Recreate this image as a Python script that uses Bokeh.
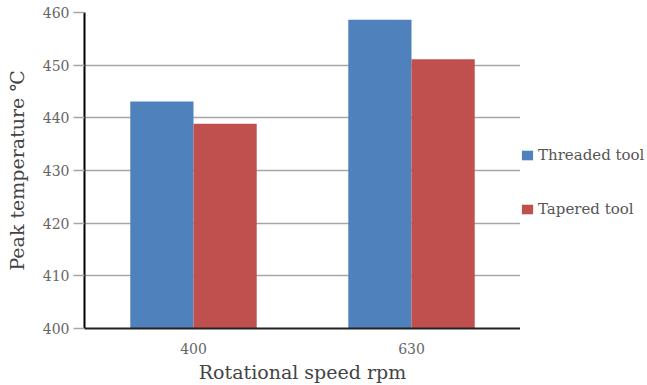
from bokeh.plotting import figure
from bokeh.layouts import row
from bokeh.models import ColumnDataSource, FactorRange, Legend, LegendItem, SingleIntervalTicker, Range1d
from bokeh.transform import dodge
from bokeh.embed import file_html
from bokeh.resources import INLINE

speeds = ["400", "630"]
threaded = [443.1, 458.6]
tapered = [438.9, 451.1]
series_names = ["Threaded tool", "Tapered tool"]
colors = ["#4F81BD", "#C0504D"]

source = ColumnDataSource(dict(speed=speeds, threaded=threaded, tapered=tapered))

FONT = "DejaVu Serif"

p = figure(width=520, height=385, x_range=FactorRange(*speeds), y_range=(400, 460),
           output_backend="svg", toolbar_location=None,
           min_border_left=84, min_border_right=0, min_border_top=12, min_border_bottom=57)
p.outline_line_color = None
p.background_fill_color = "white"

bw = 0.29
r1 = p.vbar(x=dodge("speed", -bw / 2, range=p.x_range), top="threaded", bottom=400, width=bw,
            source=source, fill_color=colors[0], line_color=None)
r2 = p.vbar(x=dodge("speed", bw / 2, range=p.x_range), top="tapered", bottom=400, width=bw,
            source=source, fill_color=colors[1], line_color=None)

p.xgrid.grid_line_color = None
p.ygrid.grid_line_color = "#A6A6A6"
p.ygrid.grid_line_width = 1.5
p.yaxis.ticker = SingleIntervalTicker(interval=10, num_minor_ticks=0)

p.yaxis.axis_line_color = "black"
p.yaxis.axis_line_width = 2
p.yaxis.major_tick_out = 11
p.yaxis.major_tick_in = 0
p.yaxis.major_tick_line_color = "#A6A6A6"
p.yaxis.major_tick_line_width = 1.5
p.yaxis.minor_tick_line_color = None
p.yaxis.major_label_standoff = 4
p.yaxis.major_label_text_font = FONT
p.yaxis.major_label_text_font_size = "14px"
p.yaxis.major_label_text_color = "#666666"
p.yaxis.axis_label = "Peak temperature ℃"
p.yaxis.axis_label_text_font = FONT
p.yaxis.axis_label_text_font_style = "normal"
p.yaxis.axis_label_text_font_size = "19px"
p.yaxis.axis_label_text_color = "#444444"
p.yaxis.axis_label_standoff = 12

p.xaxis.axis_line_color = "#222222"
p.xaxis.axis_line_width = 2
p.xaxis.major_tick_line_color = None
p.xaxis.minor_tick_line_color = None
p.xaxis.major_label_standoff = 8
p.xaxis.major_label_text_font = FONT
p.xaxis.major_label_text_font_size = "14px"
p.xaxis.major_label_text_color = "#666666"
p.xaxis.axis_label = "Rotational speed rpm"
p.xaxis.axis_label_text_font = FONT
p.xaxis.axis_label_text_font_style = "normal"
p.xaxis.axis_label_text_font_size = "19px"
p.xaxis.axis_label_text_color = "#444444"
p.xaxis.axis_label_standoff = 4

# Side figure that only carries the legend (zero-size proxy glyphs)
q = figure(width=127, height=385, output_backend="svg", toolbar_location=None,
           min_border=0, x_axis_location=None, y_axis_location=None,
           x_range=Range1d(0, 1), y_range=Range1d(0, 1))
q.outline_line_color = None
q.grid.grid_line_color = None
l1 = q.vbar(x=[0], top=[0], bottom=[0], width=0, fill_color=colors[0], line_color=None)
l2 = q.vbar(x=[0], top=[0], bottom=[0], width=0, fill_color=colors[1], line_color=None)

legend = Legend(items=[LegendItem(label=series_names[0], renderers=[l1]),
                       LegendItem(label=series_names[1], renderers=[l2])],
                location=(0, 110), orientation="vertical",
                glyph_width=14, glyph_height=12, label_height=17, spacing=36,
                label_standoff=4, padding=0, margin=0,
                border_line_alpha=0, background_fill_alpha=0,
                label_text_font=FONT, label_text_font_size="15px",
                label_text_color="#555555")
q.add_layout(legend, "center")

layout = row(p, q)
open("out.html", "w").write(file_html(layout, INLINE))
